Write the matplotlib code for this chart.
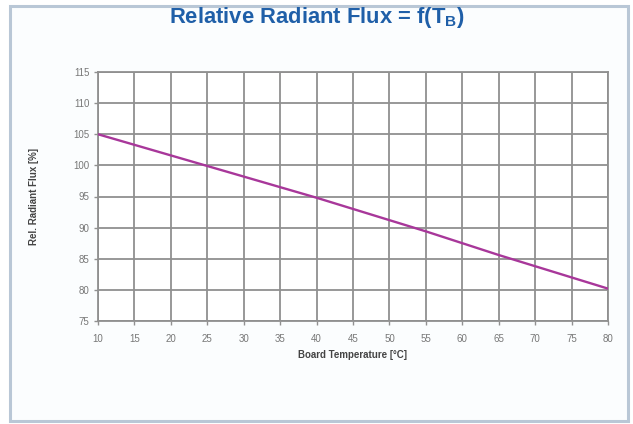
import matplotlib
matplotlib.use("Agg")
import matplotlib.pyplot as plt
from matplotlib.patches import Rectangle

plt.rcParams['font.family'] = ['Liberation Sans', 'DejaVu Sans']
plt.rcParams['mathtext.default'] = 'regular'

temperature = [10, 15, 20, 25, 30, 35, 40, 45, 50, 55, 60, 65, 70, 75, 80]
rel_flux = [105, 103.3, 101.6, 99.9, 98.2, 96.5, 94.8, 93.0, 91.2, 89.4, 87.5, 85.6, 83.8, 82.0, 80.2]
x_ticks = list(range(10, 81, 5))
y_ticks = list(range(75, 116, 5))

fig = plt.figure(figsize=(6.33, 4.24), dpi=100)
fig.patch.set_facecolor('white')

# outer frame
W, H = 633, 424
frame = Rectangle((10 / W, 1 - 421 / H), (628 - 10) / W, (421 - 6) / H,
                  transform=fig.transFigure, facecolor='#fbfdfe',
                  edgecolor='#b9c7d6', linewidth=2.2, zorder=-10)
fig.patches.append(frame)

ax = fig.add_axes([98 / W, 1 - 321 / H, (608 - 98) / W, (321 - 72) / H])
ax.set_zorder(5)
ax.set_facecolor('white')
ax.plot(temperature, rel_flux, color='#a8379a', linewidth=1.7, zorder=3)

ax.set_xlim(10, 80)
ax.set_ylim(75, 115)
ax.set_xticks(x_ticks)
ax.set_yticks(y_ticks)
ax.grid(True, color='#909090', linewidth=1.3)
for s in ax.spines.values():
    s.set_color('#909090')
    s.set_linewidth(1.3)
ax.tick_params(axis='both', colors='#909090', labelcolor='#777777', labelsize=7,
               length=3, width=1, direction='out')
ax.tick_params(axis='x', pad=6)
ax.tick_params(axis='y', pad=3)

ax.set_xlabel('Board Temperature [°C]', fontsize=7, fontweight='bold',
              color='#444444', labelpad=5)
ax.set_ylabel('Rel. Radiant Flux [%]', fontsize=7, fontweight='bold',
              color='#444444', labelpad=25)

fig.text(0.5, 1 - 18 / H, r'Relative Radiant Flux = f(T$_{B}$)', ha='center', va='center',
         fontsize=15.8, fontweight='bold', color='#1f5fa8', zorder=6)

fig.savefig('out.png', dpi=100, facecolor='white')
